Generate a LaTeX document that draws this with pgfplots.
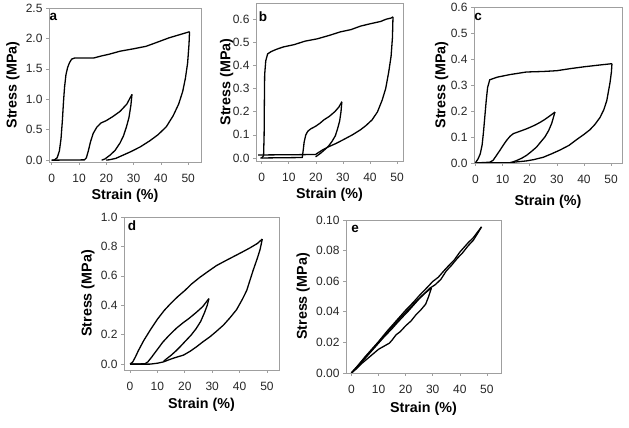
\documentclass[border=0pt]{standalone}
\usepackage{fontspec}
\setmainfont{Liberation Sans}
\usepackage{pgfplots}
\pgfplotsset{compat=1.18}

\pgfplotsset{
  panel/.style={
    scale only axis,
    anchor=south west,
    axis line style={gray!75, line width=0.8pt},
    tick style={gray!75, line width=0.6pt},
    tick align=outside,
    major tick length=3pt,
    xtick pos=left, ytick pos=left,
    xtick={0,10,...,50},
    scaled y ticks=false,
    /pgf/number format/assume math mode=true,
    ticklabel style={font=\fontsize{12}{14}\selectfont, text=black!85},
    xticklabel style={yshift=-6pt},
    yticklabel style={/pgf/number format/fixed, /pgf/number format/fixed zerofill, /pgf/number format/precision=1},
    label style={font=\fontsize{14.3}{16}\selectfont\bfseries},
    xlabel={Strain (\%)},
    ylabel={Stress (MPa)},
    cycle list={{black, solid, no marks}},
    every axis plot/.append style={line width=1.3pt, line join=round},
  },
  lab/.style 2 args={
    xlabel style={at={(axis description cs:0.5,#2)}, anchor=center},
    ylabel style={at={(axis description cs:#1,0.5)}, anchor=center},
  }
}

\begin{document}
\begin{tikzpicture}
\path[use as bounding box] (0,0) rectangle (629pt,428pt);

% panel a
\begin{axis}[panel, lab={-0.237}{-0.221},
  at={(49pt,266pt)}, width=152pt, height=154pt,
  xmin=-1, xmax=54.7, ymin=-0.03, ymax=2.5, ytick={0,0.5,...,2.5}]
\addplot coordinates {(0,0) (1,0.005) (2,0.04) (2.8,0.15) (3.4,0.35) (3.9,0.65) (4.3,0.95) (4.7,1.2) (5.2,1.4) (5.8,1.52) (6.5,1.6) (7.3,1.66) (8.5,1.68) (15.5,1.68) (18,1.71) (21,1.74) (25,1.79) (30,1.83) (34.5,1.87) (37,1.91) (40,1.96) (43,2.01) (46,2.05) (50.5,2.11)};
\addplot coordinates {(50.5,2.11) (50.3,1.9) (49.8,1.6) (49,1.35) (48,1.13) (46.5,0.92) (44.5,0.73) (42,0.55) (39,0.42) (36,0.32) (32.5,0.22) (29,0.14) (26,0.08) (23.5,0.03) (21.5,0.01) (20,0)};
\addplot coordinates {(0,0) (12,0.005) (12.7,0.04) (13.4,0.15) (14.2,0.3) (15.2,0.44) (16.5,0.54) (18,0.61) (20,0.65) (22.5,0.72) (25,0.8) (27.5,0.92) (29.4,1.08)};
\addplot coordinates {(29.4,1.08) (29,0.9) (28.3,0.7) (27.4,0.55) (26.3,0.4) (25,0.28) (23.2,0.16) (21.3,0.08) (19.5,0.02) (18.3,0)};
\end{axis}

% panel b
\begin{axis}[panel, lab={-0.2}{-0.212},
  at={(256pt,267pt)}, width=147pt, height=158pt,
  xmin=-2.1, xmax=52.2, ymin=-0.013, ymax=0.67, ytick={0,0.1,...,0.6}]
\addplot coordinates {(0,0) (0.7,0.01) (0.9,0.1) (1.0,0.25) (1.1,0.36) (1.5,0.42) (2.2,0.45) (3.5,0.46) (5.5,0.47) (8,0.48) (12,0.49) (16,0.505) (20.5,0.515) (25,0.53) (29,0.545) (33,0.555) (36.5,0.57) (40,0.58) (43.9,0.59) (46,0.6) (47.8,0.605) (48.5,0.61)};
\addplot coordinates {(48.5,0.61) (48.3,0.52) (47.8,0.44) (46.9,0.37) (45.8,0.3) (44.5,0.25) (42.8,0.2) (40.8,0.165) (38.5,0.14) (36.5,0.122) (33.5,0.1) (30.3,0.08) (27.5,0.063) (25,0.05) (22.5,0.035) (20.5,0.02) (19.9,0.015) (-1.3,0.013)};
\addplot coordinates {(-0.5,0) (15,0.002) (15.3,0.03) (15.7,0.07) (16.3,0.1) (17,0.115) (18,0.125) (19.9,0.137) (21.5,0.15) (23,0.165) (25,0.18) (27,0.2) (28.5,0.22) (29.6,0.243)};
\addplot coordinates {(29.6,0.243) (29.3,0.2) (28.8,0.16) (28,0.125) (27.2,0.096) (26,0.072) (24.8,0.053) (23,0.033) (21.7,0.02) (20.5,0.01) (19.9,0.005)};
\end{axis}

% panel c
\begin{axis}[panel, lab={-0.218}{-0.25},
  at={(474pt,265pt)}, width=148pt, height=156pt,
  xmin=-0.5, xmax=54, ymin=0, ymax=0.6, ytick={0,0.1,...,0.6}]
\addplot coordinates {(0,0) (1,0.016) (1.8,0.035) (2.5,0.07) (3,0.12) (3.5,0.18) (4,0.24) (4.5,0.29) (5.3,0.32) (8,0.33) (12.7,0.34) (18.8,0.35) (25,0.352) (30,0.355) (35,0.363) (40,0.37) (45,0.376) (50.3,0.382)};
\addplot coordinates {(50.3,0.382) (50.1,0.35) (49.6,0.31) (48.4,0.24) (47.3,0.205) (45.9,0.175) (44,0.148) (42.2,0.128) (40,0.11) (37.3,0.09) (34.5,0.068) (31.2,0.05) (28,0.035) (25,0.022) (21.5,0.013) (18.8,0.008) (15,0.004) (12.7,0.001) (0,0)};
\addplot coordinates {(0,0) (5.3,0.003) (6.5,0.01) (7.5,0.025) (9,0.048) (10.5,0.072) (11.5,0.087) (12.8,0.103) (14,0.113) (16.4,0.122) (18.5,0.13) (20.1,0.137) (22,0.146) (23.8,0.156) (25.5,0.167) (27,0.178) (28.3,0.188) (29.3,0.196)};
\addplot coordinates {(29.3,0.196) (28.6,0.17) (28.1,0.152) (27,0.125) (25.6,0.1) (24,0.08) (22.5,0.061) (20.5,0.043) (18.8,0.029) (17,0.018) (15.1,0.009) (13.5,0.003) (12.7,0.001)};
\end{axis}

% panel d
\begin{axis}[panel, lab={-0.232}{-0.229},
  at={(124pt,58pt)}, width=155pt, height=153pt,
  xmin=-2.2, xmax=54.4, ymin=-0.04, ymax=1.0, ytick={0,0.2,...,1.0}]
\addplot coordinates {(0,0) (1,0.015) (2,0.05) (3,0.09) (5,0.16) (7.5,0.235) (10,0.305) (12.5,0.365) (15,0.415) (17.5,0.46) (20,0.5) (22.5,0.545) (25.5,0.59) (28.5,0.63) (31.6,0.67) (34.6,0.70) (37.7,0.73) (40.8,0.76) (43.8,0.79) (46.5,0.82) (48.3,0.85)};
\addplot coordinates {(48.3,0.85) (47.5,0.78) (46.5,0.72) (45,0.64) (43.8,0.57) (42.6,0.50) (41,0.44) (38.9,0.37) (36.5,0.315) (34.1,0.265) (31.5,0.222) (29.2,0.186) (26.5,0.15) (24.3,0.118) (22,0.088) (19.5,0.061) (17.5,0.05) (15.8,0.04) (14,0.028) (12.2,0.015) (10,0.006) (7.3,0) (0,0)};
\addplot coordinates {(0,0) (5.4,0.002) (6.5,0.015) (7.8,0.045) (9,0.075) (10.2,0.105) (12,0.15) (14.5,0.2) (17,0.245) (19.3,0.28) (21.5,0.31) (24.1,0.35) (26.5,0.39) (28.8,0.445)};
\addplot coordinates {(28.8,0.445) (28.2,0.4) (27.2,0.35) (25.8,0.29) (24.1,0.24) (22.2,0.195) (20.4,0.16) (18.5,0.122) (16.8,0.09) (15,0.06) (13.2,0.034) (12.2,0.018)};
\end{axis}

% panel e
\begin{axis}[panel, lab={-0.277}{-0.235},
  at={(346pt,55pt)}, width=155pt, height=153pt,
  xmin=-2, xmax=55.2, ymin=0, ymax=0.1, ytick={0,0.02,...,0.1},
  yticklabel style={/pgf/number format/precision=2}]
\addplot coordinates {(0,0) (2,0.004) (5,0.0105) (8,0.0165) (10,0.0205) (13,0.027) (15,0.031) (18,0.037) (20,0.041) (23,0.0465) (25,0.0505) (28,0.056) (30,0.0598) (32,0.0625) (35,0.0685) (38,0.074) (40,0.079) (43,0.085) (45,0.0885) (46.5,0.092) (48,0.0955)};
\addplot coordinates {(48,0.0955) (47,0.0925) (45,0.0868) (43,0.083) (41,0.0785) (39,0.0748) (37,0.0705) (35,0.0667) (33,0.0612) (31,0.0578) (29,0.0555) (27,0.052) (25,0.0485) (23,0.0445) (21,0.0405) (19,0.0368) (17,0.033) (15,0.029) (12,0.0235) (9,0.0175) (6,0.0115) (3,0.0055) (0,0)};
\addplot coordinates {(0,0) (3,0.006) (6,0.012) (9,0.018) (12,0.024) (15,0.03) (18,0.036) (21,0.0415) (24,0.047) (27,0.052) (29.5,0.0555)};
\addplot coordinates {(29.5,0.0555) (28.5,0.05) (27.4,0.045) (25.5,0.041) (23.8,0.038) (22,0.034) (20.1,0.031) (18,0.027) (16.5,0.025) (15,0.0215) (14,0.0195) (12,0.0175) (10,0.0155) (7,0.011) (4,0.0065) (2,0.003) (0,0)};
\end{axis}

\begin{scope}[every node/.style={font=\fontsize{13.5}{15}\selectfont\bfseries, inner sep=0pt}]
\node at (53.5pt,411pt) {a};
\node at (263pt,411pt) {b};
\node at (478pt,411pt) {c};
\node at (132pt,202pt) {d};
\node at (355pt,199pt) {e};
\end{scope}
\end{tikzpicture}
\end{document}
